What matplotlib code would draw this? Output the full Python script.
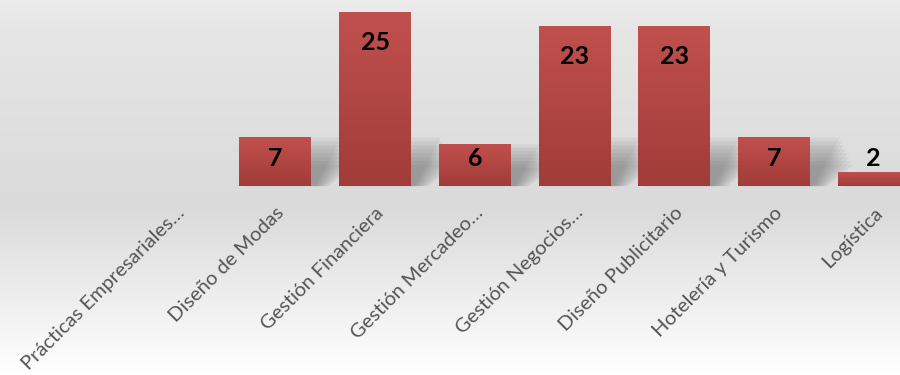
import numpy as np
import matplotlib
matplotlib.use("Agg")
import matplotlib.pyplot as plt
from matplotlib.colors import LinearSegmentedColormap
from matplotlib.patches import Polygon

plt.rcParams['font.family'] = ['Lato', 'DejaVu Sans']

# data
categories = ['Prácticas Empresariales…', 'Diseño de Modas', 'Gestión Financiera',
              'Gestión Mercadeo…', 'Gestión Negocios…', 'Diseño Publicitario',
              'Hotelería y Turismo', 'Logística']
values = [0, 7, 25, 6, 23, 23, 7, 2]

fig = plt.figure(figsize=(9, 3.75), dpi=100)
ax = fig.add_axes([0, 0, 1, 1])
xlim = (-1.762, 7.265)
ylim = (-27.3, 26.88)

# background gradient (light grey top, darker in the middle, white at the bottom)
bg = LinearSegmentedColormap.from_list('bg', [(0.0, '#ffffff'), (0.45, '#dadada'),
                                              (0.93, '#e6e6e6'), (1.0, '#ececec')])
grad = np.linspace(0, 1, 256).reshape(-1, 1)
ax.imshow(grad, extent=[xlim[0], xlim[1], ylim[0], ylim[1]], origin='lower',
          aspect='auto', cmap=bg, zorder=0)

bar_cmap = LinearSegmentedColormap.from_list('bar', ['#a13c39', '#c0504d'])
width = 0.72
x = np.arange(len(categories))

for i, v in zip(x, values):
    if v <= 0:
        continue
    x0, x1 = i - width / 2, i + width / 2
    # soft shadow behind the bar, leaning right
    hs = min(v, 7.0)
    for k in range(8):
        off = 0.02 * k
        poly = Polygon([(x0 + 0.05, 0), (x1 + 0.04 + off, 0),
                        (x1 + 0.30 + off, hs * (1 - 0.08 * k)),
                        (x0 + 0.30, hs * (1 - 0.08 * k))],
                       closed=True, facecolor='#555555', alpha=0.075,
                       edgecolor='none', zorder=1)
        ax.add_patch(poly)
    ax.imshow(np.linspace(0, 1, 64).reshape(-1, 1), extent=[x0, x1, 0, v],
              origin='lower', aspect='auto', cmap=bar_cmap, zorder=2)
    ly = max(v - 4.3, 4.05)
    ax.text(i, ly, str(v), ha='center', va='center', fontsize=18,
            fontweight='bold', color='black', zorder=3)

for i, lab in zip(x, categories):
    ax.text(i, -2.6, lab, rotation=45, rotation_mode='anchor',
            ha='right', va='top', fontsize=14.5, color='#555555', zorder=3)

ax.set_xlim(*xlim)
ax.set_ylim(*ylim)
ax.axis('off')

fig.savefig('out.png', dpi=100)
